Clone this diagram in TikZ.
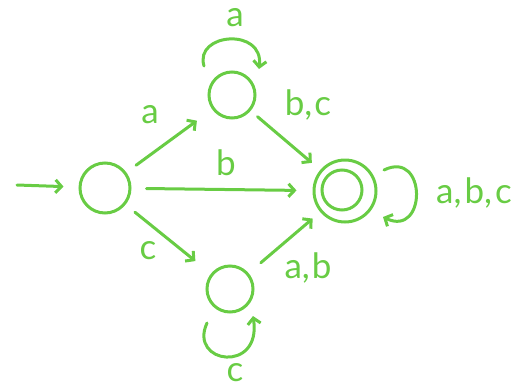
\documentclass[tikz,border=0pt]{standalone}
\usepackage{fontspec}
\setmainfont{Lato}
\usetikzlibrary{arrows.meta,calc}
\definecolor{pen}{RGB}{104,204,68}
\tikzset{
  every picture/.style={x=1pt,y=-1pt},
  state/.style={circle,draw=pen,line width=3pt,inner sep=0pt},
  edge/.style={draw=pen,line width=3pt,line cap=round,-{Straight Barb[length=6pt,width=13pt,line width=3pt]}},
  lbl/.style={text=pen,font=\fontsize{35}{35}\selectfont,inner sep=0pt}
}
\begin{document}
\begin{tikzpicture}
\useasboundingbox (0,0) rectangle (530,389);
% states
\node[state,minimum size=50pt] (s) at (105,188) {};
\node[state,minimum size=46pt] (t) at (232,95) {};
\node[state,minimum size=46pt] (u) at (230,289) {};
\node[state,minimum size=62pt] (f) at (345,191) {};
\node[state,minimum size=40pt] (fi) at (342,190) {};
\coordinate (init) at (17,185);
% edges
\draw[edge,shorten >=15pt] (init) -- (s);
\draw[edge,shorten <=12pt,shorten >=19pt] (s) -- (t);
\draw[edge,shorten <=15pt,shorten >=16pt] (s) -- (f);
\draw[edge,shorten <=12pt,shorten >=20pt] (s) -- (u);
\draw[edge,shorten <=9pt,shorten >=11pt] (t) -- (f);
\draw[edge,shorten <=16pt,shorten >=10pt] (u) -- (f);
% loops
\draw[edge] ($(t)+(-28,-29)$) .. controls ($(t)+(-38,-62)$) and ($(t)+(32,-68)$) .. ($(t)+(27,-26)$);
\draw[edge] ($(u)+(-23,34)$) .. controls ($(u)+(-42,75)$) and ($(u)+(32,85)$) .. ($(u)+(23,27)$);
\draw[edge] ($(f)+(39,-21)$) .. controls ($(f)+(82,-42)$) and ($(f)+(82,47)$) .. ($(f)+(38,26)$);
% labels
\node[lbl] (la1) at (235,18) {a};
\node[lbl] (la2) at (150,115) {a};
\node[lbl] (lb) at (226,163) {b};
\node[lbl] (lc) at (148,251) {c};
\node[lbl] (lbc) at (308,105) {b,\kern2pt c};
\node[lbl] (lab) at (308,268) {a,\kern2pt b};
\node[lbl] (labc) at (474,193) {a,\kern3pt b,\kern3pt c};
\node[lbl] (lc2) at (235,373) {c};
\end{tikzpicture}
\end{document}
